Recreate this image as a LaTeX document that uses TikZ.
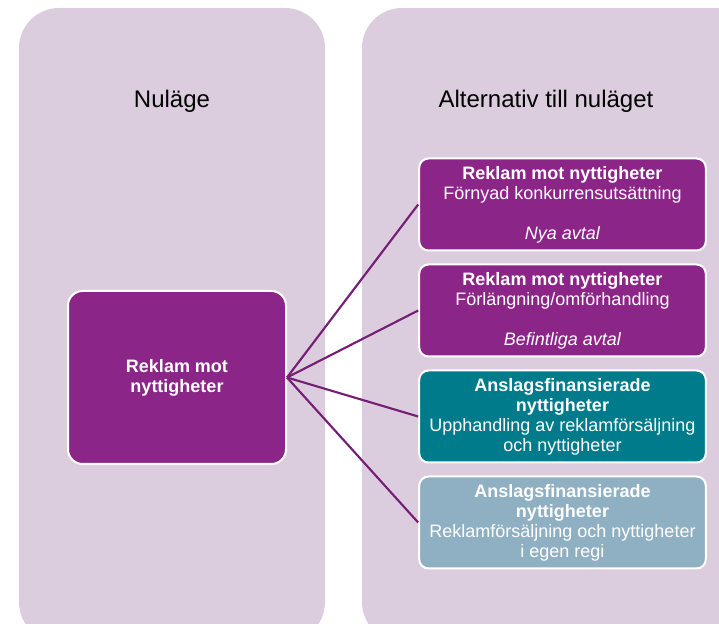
\documentclass[tikz,border=0pt]{standalone}
\usepackage{fontspec}
\setmainfont{Liberation Sans}
\usetikzlibrary{positioning}

\definecolor{panelbg}{RGB}{219,205,222}
\definecolor{boxpurple}{RGB}{140,37,136}
\definecolor{boxteal}{RGB}{0,123,139}
\definecolor{boxgrey}{RGB}{143,176,194}
\definecolor{linkpurple}{RGB}{118,30,118}

\begin{document}
\begin{tikzpicture}[x=0.75pt,y=-0.75pt,
    panel/.style={fill=panelbg,rounded corners=30pt},
    paneltitle/.style={font=\fontsize{18}{21}\selectfont},
    box/.style={draw=white,line width=1.5pt,rounded corners=7pt,text=white,
        align=center,minimum width=215pt,minimum height=69pt,inner sep=0pt,
        font=\fontsize{13.5}{15}\selectfont},
    link/.style={draw=linkpurple,line width=1.6pt}]
    \useasboundingbox (0,0) rectangle (719,624);
    \clip (0,0) rectangle (719,624);

    % Background panels
    \fill[panel] (19,8) rectangle (325,642);
    \fill[panel] (362,8) rectangle (760,642);
    \node[paneltitle] (nowtitle) at (172,101) {Nuläge};
    \node[paneltitle] (alttitle) at (546,101) {Alternativ till nuläget};

    % Current situation
    \node[box,fill=boxpurple,minimum width=163.5pt,minimum height=129.75pt,
        rounded corners=11pt,font=\fontsize{13.5}{15}\selectfont\bfseries]
        (now) at (177,377.5) {Reklam mot\\nyttigheter};

    % Alternatives
    \node[box,fill=boxpurple] (alt1) at (562.5,204.5)
        {\textbf{Reklam mot nyttigheter}\\Förnyad konkurrensutsättning\\[15pt]\textit{Nya avtal}};
    \node[box,fill=boxpurple,below=9pt of alt1] (alt2)
        {\textbf{Reklam mot nyttigheter}\\Förlängning/omförhandling\\[15pt]\textit{Befintliga avtal}};
    \node[box,fill=boxteal,below=9pt of alt2] (alt3)
        {\textbf{Anslagsfinansierade}\\\textbf{nyttigheter}\\Upphandling av reklamförsäljning\\och nyttigheter};
    \node[box,fill=boxgrey,below=9pt of alt3] (alt4)
        {\textbf{Anslagsfinansierade}\\\textbf{nyttigheter}\\Reklamförsäljning och nyttigheter\\i egen regi};

    % Fan of links
    \foreach \b in {alt1,alt2,alt3,alt4} {
        \draw[link] (now.east) -- (\b.west);
    }
\end{tikzpicture}
\end{document}
